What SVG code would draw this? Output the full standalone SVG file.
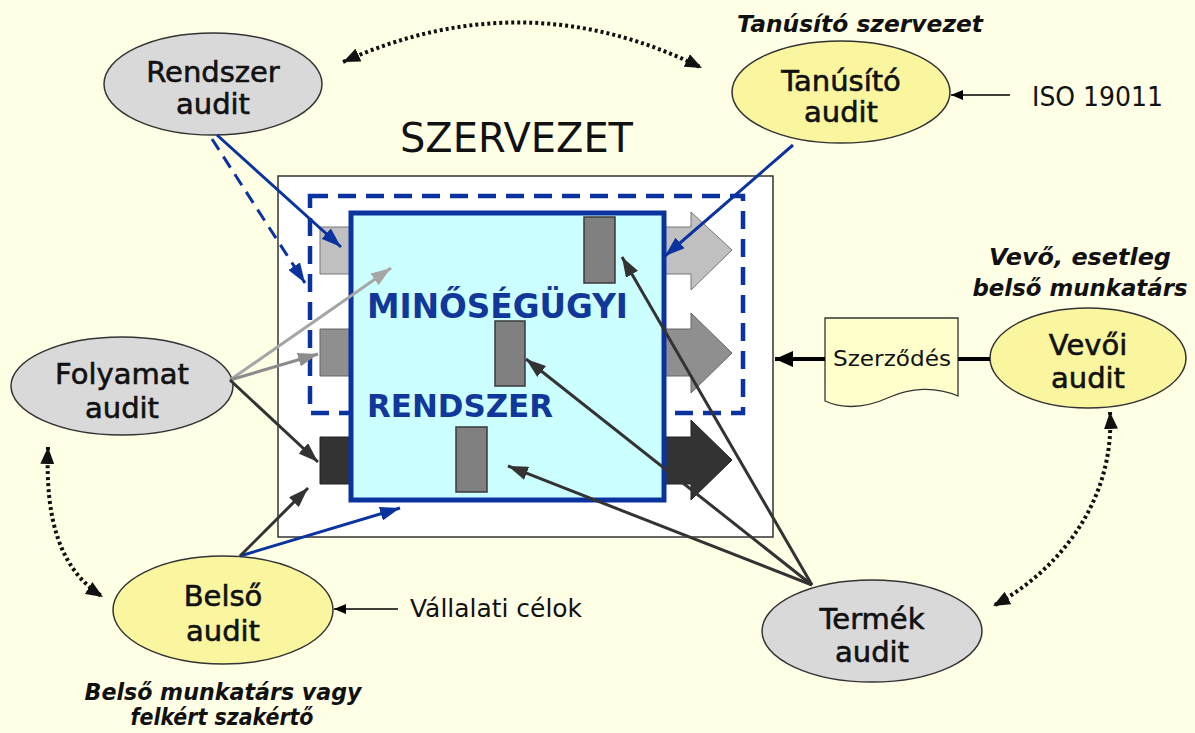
<svg xmlns="http://www.w3.org/2000/svg" width="1195" height="733" viewBox="0 0 1195 733">
<style>
.bg{fill:#FFFFE6}
.ell{stroke:#333;stroke-width:1.5}
.gray{fill:#D9D9D9}
.yel{fill:#FAF6A0}
.lbl{font-family:"DejaVu Sans",sans-serif;font-size:29px;fill:#111;stroke:#111;stroke-width:0.6;text-anchor:middle}
.ital{font-family:"DejaVu Sans",sans-serif;font-size:23px;font-weight:bold;font-style:italic;fill:#111;text-anchor:middle}
.plain{font-family:"DejaVu Sans",sans-serif;fill:#111}
.sys{font-family:"DejaVu Sans",sans-serif;font-weight:bold;fill:#12379A}
.blue{stroke:#0A33A0;stroke-width:3;fill:none}
.dark{stroke:#333;stroke-width:3;fill:none}
.dot{stroke:#111;stroke-width:4;stroke-dasharray:3 3;fill:none}
.rect{fill:#808080;stroke:#3a3a3a;stroke-width:1.5}
</style>
<defs>
<marker id="hBlue" markerUnits="userSpaceOnUse" markerWidth="20" markerHeight="14" refX="20" refY="7" orient="auto"><path d="M0,0 L20,7 L0,14 z" fill="#0A33A0"/></marker>
<marker id="hDark" markerUnits="userSpaceOnUse" markerWidth="20" markerHeight="14" refX="20" refY="7" orient="auto"><path d="M0,0 L20,7 L0,14 z" fill="#333"/></marker>
<marker id="hGray" markerUnits="userSpaceOnUse" markerWidth="20" markerHeight="14" refX="20" refY="7" orient="auto"><path d="M0,0 L20,7 L0,14 z" fill="#8C8C8C"/></marker>
<marker id="hLight" markerUnits="userSpaceOnUse" markerWidth="20" markerHeight="14" refX="20" refY="7" orient="auto"><path d="M0,0 L20,7 L0,14 z" fill="#A6A6A6"/></marker>
<marker id="hSmall" markerUnits="userSpaceOnUse" markerWidth="12" markerHeight="10" refX="12" refY="5" orient="auto"><path d="M0,0 L12,5 L0,10 z" fill="#000"/></marker>
<marker id="hThick" markerUnits="userSpaceOnUse" markerWidth="18" markerHeight="16" refX="18" refY="8" orient="auto"><path d="M0,0 L18,8 L0,16 z" fill="#000"/></marker>
<marker id="hDot" markerUnits="userSpaceOnUse" markerWidth="17" markerHeight="14" refX="17" refY="7" orient="auto-start-reverse"><path d="M0,0 L17,7 L0,14 z" fill="#111"/></marker>
</defs>
<rect class="bg" x="0" y="0" width="1195" height="733"/>

<g id="szervezet">
<rect x="278" y="176" width="495" height="361" fill="#fff" stroke="#333" stroke-width="1.5"/>
<text class="plain" x="400" y="152" font-size="40" textLength="233" lengthAdjust="spacingAndGlyphs">SZERVEZET</text>
<rect x="310" y="196" width="433" height="217" fill="none" stroke="#0A33A0" stroke-width="4.5" stroke-dasharray="18 10"/>
<polygon points="320,227 691,227 691,212 732,250 691,290 691,274 320,274" fill="#C0C0C0" stroke="#777" stroke-width="1"/>
<polygon points="320,329 691,329 691,313 732,353 691,393 691,376 320,376" fill="#8F8F8F" stroke="#666" stroke-width="1"/>
<polygon points="320,437 691,437 691,420 732,460 691,500 691,484 320,484" fill="#333" stroke="#222" stroke-width="1"/>
</g>

<g id="minosegugyi-rendszer">
<rect x="351" y="213" width="313" height="287" fill="#CCFFFF" stroke="#0A33A0" stroke-width="5"/>
<rect class="rect" x="584" y="217" width="31" height="66"/>
<rect class="rect" x="495" y="321" width="30" height="65"/>
<rect class="rect" x="456" y="427" width="31" height="65"/>
<text class="sys" x="367" y="318" font-size="33" textLength="261" lengthAdjust="spacingAndGlyphs">MINŐSÉGÜGYI</text>
<text class="sys" x="367" y="417" font-size="32" textLength="186" lengthAdjust="spacingAndGlyphs">RENDSZER</text>
</g>

<g id="rendszer-audit">
<ellipse class="ell gray" cx="213" cy="84" rx="109" ry="51"/>
<text class="lbl" x="213" y="82">Rendszer</text>
<text class="lbl" x="213" y="114">audit</text>
</g>

<g id="tanusito-audit">
<text class="ital" x="860" y="32" textLength="246" lengthAdjust="spacingAndGlyphs">Tanúsító szervezet</text>
<ellipse class="ell yel" cx="841" cy="92" rx="109" ry="51"/>
<text class="lbl" x="841" y="91">Tanúsító</text>
<text class="lbl" x="841" y="122">audit</text>
<text class="plain" x="1032" y="106" font-size="26" textLength="131" lengthAdjust="spacingAndGlyphs">ISO 19011</text>
</g>

<g id="folyamat-audit">
<ellipse class="ell gray" cx="122" cy="386" rx="111" ry="49"/>
<text class="lbl" x="122" y="384">Folyamat</text>
<text class="lbl" x="122" y="418">audit</text>
</g>

<g id="belso-audit">
<ellipse class="ell yel" cx="223" cy="610" rx="110" ry="54"/>
<text class="lbl" x="223" y="606">Belső</text>
<text class="lbl" x="223" y="641">audit</text>
<text class="plain" x="410" y="617" font-size="24" textLength="172" lengthAdjust="spacingAndGlyphs">Vállalati célok</text>
<text class="ital" x="223" y="700" textLength="277" lengthAdjust="spacingAndGlyphs">Belső munkatárs vagy</text>
<text class="ital" x="222" y="725" textLength="183" lengthAdjust="spacingAndGlyphs">felkért szakértő</text>
</g>

<g id="vevoi-audit">
<text class="ital" x="1080" y="265" textLength="182" lengthAdjust="spacingAndGlyphs">Vevő, esetleg</text>
<text class="ital" x="1080" y="296" textLength="215" lengthAdjust="spacingAndGlyphs">belső munkatárs</text>
<ellipse class="ell yel" cx="1088" cy="358" rx="98" ry="50"/>
<text class="lbl" x="1088" y="355">Vevői</text>
<text class="lbl" x="1088" y="388">audit</text>
</g>

<g id="szerzodes">
<path d="M825,318 H958 V396 C935,386 910,388 890,397 C868,407 845,410 825,401 Z" fill="#FFFFCC" stroke="#333" stroke-width="1.3"/>
<text class="plain" x="833" y="366" font-size="22" textLength="118" lengthAdjust="spacingAndGlyphs">Szerződés</text>
</g>

<g id="termek-audit">
<ellipse class="ell gray" cx="872" cy="631" rx="110" ry="51"/>
<text class="lbl" x="872" y="629">Termék</text>
<text class="lbl" x="872" y="662">audit</text>
</g>

<g id="connectors">
<path class="dot" d="M343,62 Q525,-20 702,68" marker-start="url(#hDot)" marker-end="url(#hDot)"/>
<path class="dot" d="M48,447 C45,520 60,570 103,597" marker-start="url(#hDot)" marker-end="url(#hDot)"/>
<path class="dot" d="M1110,412 C1115,500 1060,570 993,606" marker-start="url(#hDot)" marker-end="url(#hDot)"/>

<line class="blue" x1="217" y1="135" x2="341" y2="247" marker-end="url(#hBlue)"/>
<line class="blue" x1="212" y1="139" x2="305" y2="283" stroke-dasharray="13 8" marker-end="url(#hBlue)"/>
<line class="blue" x1="793" y1="145" x2="665" y2="256" marker-end="url(#hBlue)"/>
<line class="blue" x1="240" y1="556" x2="400" y2="508" marker-end="url(#hBlue)"/>

<line x1="230" y1="380" x2="391" y2="268" stroke="#A6A6A6" stroke-width="3" marker-end="url(#hLight)"/>
<line x1="230" y1="380" x2="318" y2="354" stroke="#8C8C8C" stroke-width="3" marker-end="url(#hGray)"/>
<line class="dark" x1="230" y1="380" x2="318" y2="462" marker-end="url(#hDark)"/>
<line class="dark" x1="240" y1="556" x2="308" y2="488" marker-end="url(#hDark)"/>

<line class="dark" x1="812" y1="585" x2="622" y2="257" marker-end="url(#hDark)"/>
<line class="dark" x1="812" y1="585" x2="526" y2="359" marker-end="url(#hDark)"/>
<line class="dark" x1="812" y1="585" x2="508" y2="466" marker-end="url(#hDark)"/>

<line x1="1010" y1="95" x2="951" y2="95" stroke="#000" stroke-width="1.5" marker-end="url(#hSmall)"/>
<line x1="398" y1="609" x2="334" y2="609" stroke="#000" stroke-width="1.5" marker-end="url(#hSmall)"/>
<line x1="990" y1="359" x2="958" y2="359" stroke="#000" stroke-width="4"/>
<line x1="825" y1="359" x2="775" y2="359" stroke="#000" stroke-width="4" marker-end="url(#hThick)"/>
</g>
</svg>
